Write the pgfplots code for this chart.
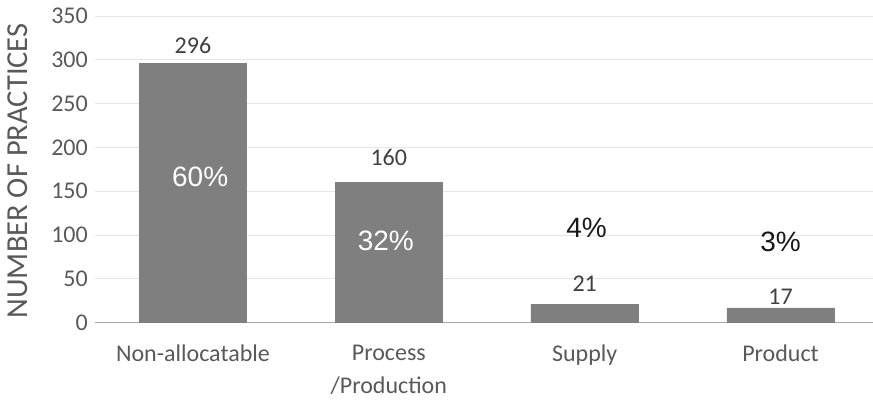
\documentclass[border=0pt]{standalone}
\usepackage{fontspec}
\setmainfont{Carlito}
\newfontfamily\arialfont{Liberation Sans}
\usepackage{pgfplots}
\pgfplotsset{compat=1.18}

\definecolor{barGray}{HTML}{7F7F7F}
\definecolor{tickGray}{HTML}{595959}
\definecolor{valGray}{HTML}{404040}
\definecolor{gridGray}{HTML}{E6E6E6}
\definecolor{baseGray}{HTML}{A6A6A6}

\begin{document}
\begin{tikzpicture}
\begin{axis}[
  name=ax,
  scale only axis,
  width=778pt, height=306.7pt,
  xmin=-0.5, xmax=3.472,
  ymin=0, ymax=350,
  ytick={0,50,...,350},
  xtick={0,1,2,3},
  xticklabels={Non-allocatable, Process\\/Production, Supply, Product},
  axis x line*=bottom,
  axis y line*=left,
  x axis line style={draw=baseGray, line width=1.2pt},
  y axis line style={draw=none},
  major tick length=0pt,
  ymajorgrids,
  grid style={draw=gridGray, line width=0.9pt},
  /pgf/number format/assume math mode=true,
  tick label style={font=\fontsize{24}{33}\selectfont, text=tickGray},
  yticklabel style={inner sep=0pt, xshift=-7pt},
  xticklabel style={align=center, inner sep=0pt, yshift=-22pt, anchor=north},
  ylabel={NUMBER OF PRACTICES},
  % the label is turned by 90 degrees, so its own y direction points left
  ylabel style={at={(axis description cs:0,0.495)}, anchor=center,
    yshift=77pt, font=\fontsize{30.5}{33}\selectfont, text=tickGray},
  ybar,
  bar width=107.5pt,
  clip=false,
]
\addplot[fill=barGray, draw=barGray] coordinates {(0,296) (1,160) (2,21) (3,17)};

% value labels
\begin{scope}[every node/.style={font=\fontsize{24}{28}\selectfont, text=valGray, inner sep=0pt}]
\node at (axis cs:0,316.3) {296};
\node at (axis cs:1,189.1) {160};
\node at (axis cs:2,44.7) {21};
\node at (axis cs:3,29.9) {17};
\end{scope}

% share labels
\begin{scope}[every node/.style={font=\arialfont\fontsize{28}{32}\selectfont, inner sep=0pt}]
\node[text=white] at (axis cs:0.037,166.2) {60\%};
\node[text=white] at (axis cs:0.985,93.2) {32\%};
\node[text=black!90] at (axis cs:2.01,108.6) {4\%};
\node[text=black!90] at (axis cs:3,92.1) {3\%};
\end{scope}
\end{axis}
\pgfresetboundingbox
\path[use as bounding box] ([shift={(-95pt,-80.3pt)}]ax.south west) rectangle ([shift={(0pt,16pt)}]ax.north east);
\end{tikzpicture}
\end{document}
